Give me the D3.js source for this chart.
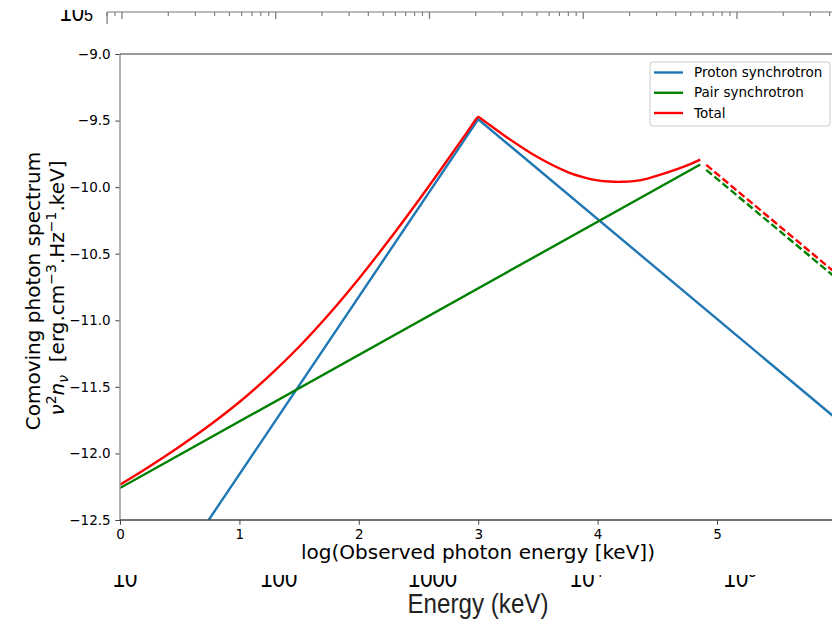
<!DOCTYPE html>
<html>
<head>
<meta charset="utf-8">
<script src="https://cdn.jsdelivr.net/npm/d3@7"></script>
<style>
  body { margin: 0; background: #fff; }
  svg { display: block; }
  text { font-family: "DejaVu Sans", sans-serif; fill: #000; }
</style>
</head>
<body>
<svg width="832" height="625"></svg>
<script>
// main chart data (log10 of observed photon energy, keV)
const protonX = [0, 3, 6];
const protonY = [-13.49, -9.49, -11.74];

const pairX = [0, 4.86];
const pairY = [-12.26, -9.83];
const pairTailX = [4.91, 6];
const pairTailY = [-9.87, -10.685];

const totalX = [0, 0.25, 0.5, 0.75, 1, 1.25, 1.5, 1.75, 2, 2.25, 2.5, 2.75, 2.9, 2.97, 3, 3.03, 3.1, 3.25, 3.5, 3.75, 3.9, 4, 4.1, 4.2, 4.3, 4.4, 4.5, 4.75, 4.86];
const totalY = [-12.235, -12.096, -11.948, -11.789, -11.614, -11.418, -11.199, -10.955, -10.688, -10.401, -10.1, -9.787, -9.596, -9.505, -9.472, -9.49, -9.535, -9.632, -9.776, -9.887, -9.93, -9.949, -9.958, -9.96, -9.955, -9.94, -9.914, -9.836, -9.793];
const totalTailX = [4.91, 6];
const totalTailY = [-9.833, -10.65];

const yTicks = [-12.5, -12, -11.5, -11, -10.5, -10, -9.5, -9];
const xTicks = [0, 1, 2, 3, 4, 5, 6];

const legendNames = ["Proton synchrotron", "Pair synchrotron", "Total"];
const colors = ["#1f77b4", "green", "red"];

// background figure behind (Energy axis)
const energyTicks = [10, 100, 1000, 1e4, 1e5];
const energyLabels = ["10", "100", "1000", "10|4", "10|5"];

const svg = d3.select("svg");

// ---- background figure ----
const bg = svg.append("g");
const ex = d3.scaleLog().domain([10, 1e5]).range([122, 737]);

bg.append("line")
    .attr("x1", ex(8)).attr("x2", 832)
    .attr("y1", 12).attr("y2", 12)
    .attr("stroke", "#777").attr("stroke-width", 1.2);
bg.append("line")
    .attr("x1", ex(8)).attr("x2", ex(8))
    .attr("y1", 12).attr("y2", 40)
    .attr("stroke", "#777").attr("stroke-width", 1.2);

const minor = [];
[1, 10, 100, 1000, 1e4, 1e5].forEach(dec => {
    for (let k = 2; k <= 9; k++) minor.push(dec * k);
});
bg.selectAll(".minor").data(minor.filter(d => d >= 8 && ex(d) <= 832))
    .enter().append("line")
    .attr("x1", d => ex(d)).attr("x2", d => ex(d))
    .attr("y1", 12).attr("y2", 16)
    .attr("stroke", "#777").attr("stroke-width", 1.1);
bg.selectAll(".major").data(energyTicks)
    .enter().append("line")
    .attr("x1", d => ex(d)).attr("x2", d => ex(d))
    .attr("y1", 12).attr("y2", 19)
    .attr("stroke", "#777").attr("stroke-width", 1.2);

const topLab = bg.append("text")
    .attr("x", 93).attr("y", 21)
    .attr("text-anchor", "end")
    .style("font-family", "Liberation Sans, Arial, sans-serif")
    .style("font-size", "26px")
    .attr("transform", "translate(93,0) scale(0.85,1) translate(-93,0)");
topLab.append("tspan").text("10");
topLab.append("tspan").style("font-size", "19px").text("5");
bg.append("rect").attr("x", 0).attr("y", 0).attr("width", 104).attr("height", 10).attr("fill", "#fff");

energyTicks.forEach((t, i) => {
    const parts = energyLabels[i].split("|");
    const cx = ex(t) + 3;
    const g = bg.append("text")
        .attr("x", cx).attr("y", 587)
        .attr("text-anchor", "middle")
        .style("font-family", "Liberation Sans, Arial, sans-serif")
        .style("font-size", "27px")
        .attr("transform", `translate(${cx},0) scale(0.82,1) translate(${-cx},0)`);
    g.append("tspan").text(parts[0]);
    if (parts[1]) g.append("tspan").attr("dy", -10).style("font-size", "18px").text(parts[1]);
});

bg.append("text")
    .attr("x", 478).attr("y", 613)
    .attr("text-anchor", "middle")
    .attr("textLength", 141)
    .attr("lengthAdjust", "spacingAndGlyphs")
    .style("font-family", "Liberation Sans, Arial, sans-serif")
    .style("font-size", "27px")
    .style("fill", "#222")
    .text("Energy (keV)");

// white figure on top of it
svg.append("rect")
    .attr("x", 0).attr("y", 24)
    .attr("width", 832).attr("height", 551)
    .attr("fill", "#fff");

// ---- main chart ----
const x = d3.scaleLinear().domain([0, 6]).range([120, 836.4]);
const y = d3.scaleLinear().domain([-12.5, -9]).range([520, 54]);

svg.append("defs").append("clipPath").attr("id", "plot")
    .append("rect")
    .attr("x", x(0)).attr("y", y(-9))
    .attr("width", x(6) - x(0)).attr("height", y(-12.5) - y(-9));

const line = d3.line().x(d => x(d[0])).y(d => y(d[1]));
const smooth = d3.line().x(d => x(d[0])).y(d => y(d[1])).curve(d3.curveCatmullRom.alpha(0.5));

const plot = svg.append("g").attr("clip-path", "url(#plot)");

const series = [
    { xs: protonX, ys: protonY, c: colors[0], dash: null, gen: line },
    { xs: pairX, ys: pairY, c: colors[1], dash: null, gen: line },
    { xs: pairTailX, ys: pairTailY, c: colors[1], dash: "7.4,3.2", gen: line },
    { xs: totalX, ys: totalY, c: colors[2], dash: null, gen: smooth },
    { xs: totalTailX, ys: totalTailY, c: colors[2], dash: "7.4,3.2", gen: line }
];
series.forEach(s => {
    plot.append("path")
        .datum(s.xs.map((v, i) => [v, s.ys[i]]))
        .attr("d", s.gen)
        .attr("fill", "none")
        .attr("stroke", s.c)
        .attr("stroke-width", 2.4)
        .attr("stroke-dasharray", s.dash);
});

// axes
const yAxis = d3.axisLeft(y)
    .tickValues(yTicks)
    .tickFormat(d3.format(".1f"))
    .tickSize(4.7)
    .tickPadding(4.7);
const xAxis = d3.axisBottom(x)
    .tickValues(xTicks)
    .tickFormat(d3.format("d"))
    .tickSize(4.7)
    .tickPadding(4.7);

const gy = svg.append("g").attr("transform", `translate(${x(0)},0)`).call(yAxis);
const gx = svg.append("g").attr("transform", `translate(0,${y(-12.5)})`).call(xAxis);
[gx, gy].forEach(g => {
    g.select(".domain").remove();
    g.selectAll("text").style("font-size", "13.5px").style("font-family", "DejaVu Sans").attr("fill", "#222");
    g.selectAll("line").attr("stroke", "#444");
});

// spines
svg.append("line").attr("x1", x(0)).attr("x2", x(0)).attr("y1", y(-9)).attr("y2", y(-12.5))
    .attr("stroke", "#999").attr("stroke-width", 1.5);
svg.append("line").attr("x1", x(0)).attr("x2", 836).attr("y1", y(-9)).attr("y2", y(-9))
    .attr("stroke", "#777").attr("stroke-width", 1.3);
svg.append("line").attr("x1", x(0)).attr("x2", 836).attr("y1", y(-12.5)).attr("y2", y(-12.5))
    .attr("stroke", "#444").attr("stroke-width", 1.3);

// axis labels
svg.append("text")
    .attr("x", 478).attr("y", 559)
    .attr("text-anchor", "middle")
    .style("font-size", "20px")
    .text("log(Observed photon energy [keV])");

svg.append("text")
    .attr("transform", "translate(40,291) rotate(-90)")
    .attr("text-anchor", "middle")
    .style("font-size", "20px")
    .text("Comoving photon spectrum");

const yl = svg.append("text")
    .attr("transform", "translate(64,288) rotate(-90)")
    .attr("text-anchor", "middle")
    .style("font-size", "20px");
yl.append("tspan").style("font-style", "italic").text("ν");
yl.append("tspan").attr("dy", -8).style("font-size", "14px").text("2");
yl.append("tspan").attr("dy", 8).style("font-style", "italic").text("n");
yl.append("tspan").attr("dy", 4).style("font-size", "14px").style("font-style", "italic").text("ν");
yl.append("tspan").attr("dy", -4).text("\u00a0\u00a0[erg.cm");
yl.append("tspan").attr("dy", -8).style("font-size", "14px").text("−3");
yl.append("tspan").attr("dy", 8).text(".Hz");
yl.append("tspan").attr("dy", -8).style("font-size", "14px").text("−1");
yl.append("tspan").attr("dy", 8).text(".keV]");

// legend
const lg = svg.append("g");
lg.append("rect")
    .attr("x", 650).attr("y", 62)
    .attr("width", 180).attr("height", 64)
    .attr("rx", 3)
    .attr("fill", "#fff").attr("fill-opacity", 0.8)
    .attr("stroke", "#ccc");
const rowY = d3.scaleLinear().domain([0, 2]).range([72.5, 113]);
legendNames.forEach((n, i) => {
    lg.append("line")
        .attr("x1", 654).attr("x2", 683)
        .attr("y1", rowY(i)).attr("y2", rowY(i))
        .attr("stroke", colors[i]).attr("stroke-width", 2.4);
    lg.append("text")
        .attr("x", 694).attr("y", rowY(i)).attr("dy", "0.35em")
        .style("font-size", "13.5px")
        .text(n);
});
</script>
</body>
</html>
